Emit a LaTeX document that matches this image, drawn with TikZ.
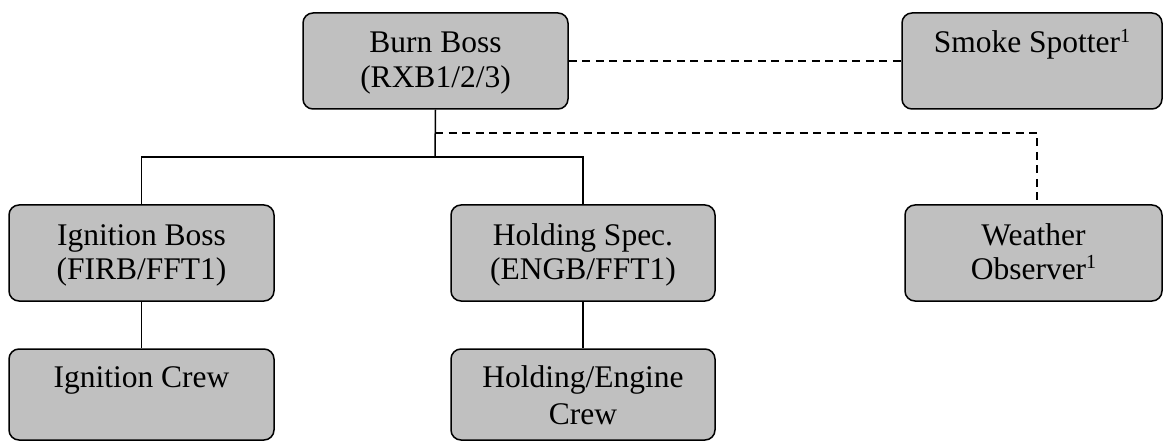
\documentclass[tikz,border=0pt]{standalone}
\usepackage{fontspec}
\setmainfont{Liberation Serif}
\definecolor{boxgray}{RGB}{192,192,192}
% line struts: every box holds two lines, so the first line sits at a fixed depth
\newcommand\upstrut{\rule[-8pt]{0pt}{34.5pt}}
\newcommand\lowstrut{\rule[-5.5pt]{0pt}{34.5pt}}
% footnote mark, set small and raised
\newcommand\fnmark[1]{\raisebox{10.5pt}{\fontsize{20}{20}\selectfont #1}}
\begin{document}
\begin{tikzpicture}[x=1pt,y=-1pt,
  box/.style={draw, line width=1.5pt, fill=boxgray, rounded corners=10pt,
    inner sep=0pt, align=center, minimum height=96pt,
    font=\fontsize{31.5}{34.5}\selectfont},
  lowbox/.style={box, minimum height=91pt},
  link/.style={line width=1.5pt},
  dlink/.style={line width=1.5pt, dash pattern=on 8pt off 5.5pt}]
\useasboundingbox (0,0) rectangle (1163,441);

% top row
\node[box, minimum width=265pt] (burn) at (435.5,61)
  {\upstrut Burn Boss\\\upstrut (RXB1/2/3)};
\node[box, minimum width=260pt] (smoke) at (1032,61)
  {\upstrut Smoke Spotter\fnmark{1}\\\upstrut};

% middle row
\node[box, minimum width=265pt] (ign) at (141.5,253)
  {\upstrut Ignition Boss\\\upstrut (FIRB/FFT1)};
\node[box, minimum width=264pt] (hold) at (583,253)
  {\upstrut Holding Spec.\\\upstrut (ENGB/FFT1)};
\node[box, minimum width=257pt] (wx) at (1033.5,253)
  {\upstrut Weather\\\upstrut Observer\fnmark{1}};

% bottom row
\node[lowbox, minimum width=265pt] (igncrew) at (141.5,394.5)
  {\lowstrut Ignition Crew\\\lowstrut};
\node[lowbox, minimum width=264pt] (holdcrew) at (583,394.5)
  {\lowstrut Holding/Engine\\\lowstrut Crew};

% connectors
\coordinate (bus) at (435,157);
\coordinate (tap) at (435,133);
\coordinate (wxtop) at (1037,205);

\draw[dlink] (burn.east |- smoke.west) -- (smoke.west);
\draw[link] (burn.south) -- (bus);
\draw[link] (ign.north) |- (bus) -| (hold.north);
\draw[dlink] (tap) -| (wxtop);
\draw[link] (ign.south) -- (igncrew.north);
\draw[link] (hold.south) -- (holdcrew.north);
\end{tikzpicture}
\end{document}
